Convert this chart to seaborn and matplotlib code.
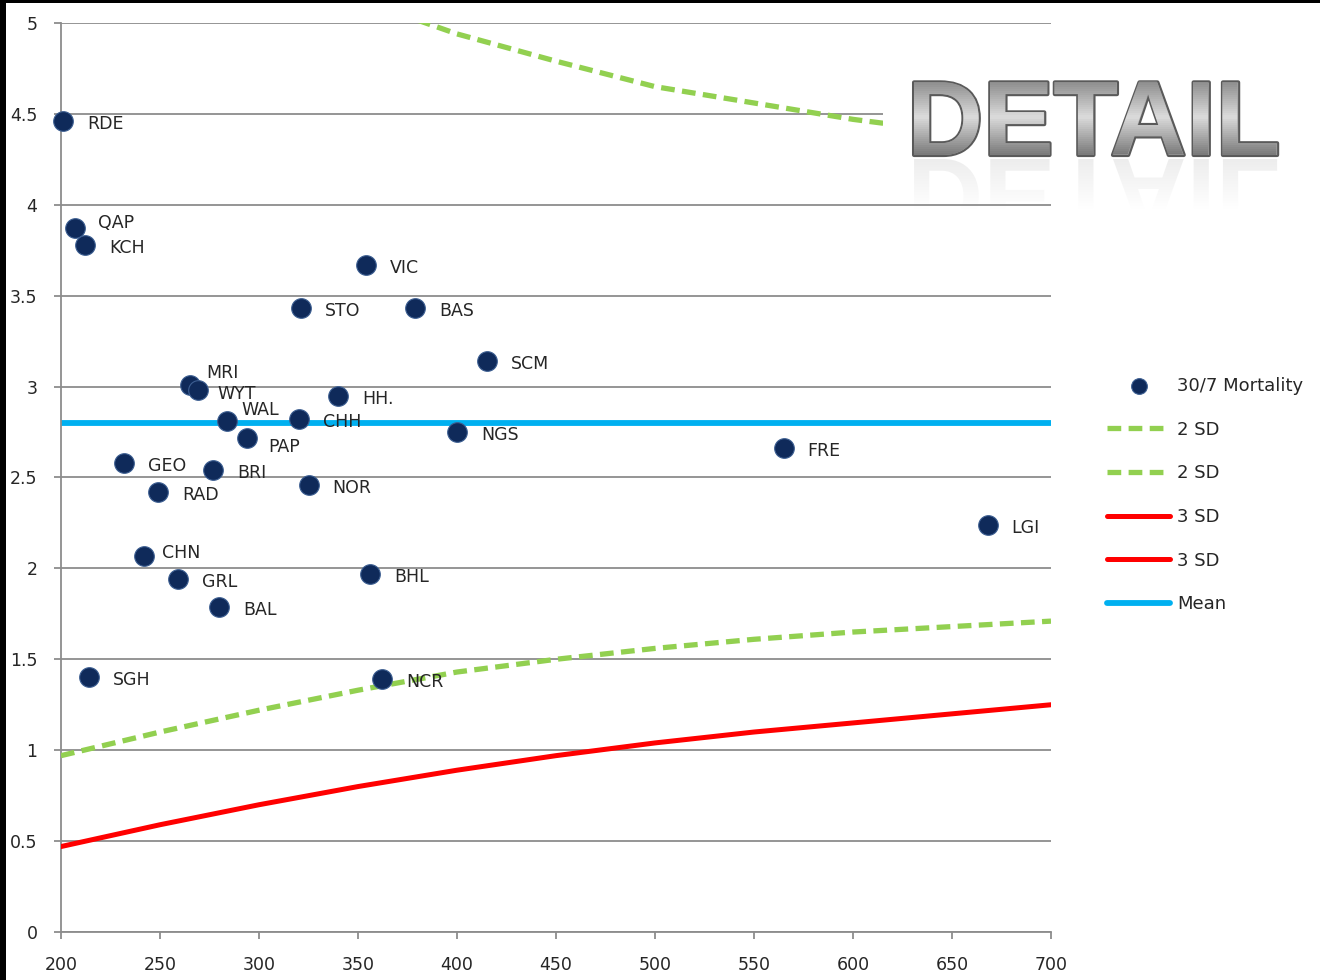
import numpy as np
import pandas as pd
import matplotlib
matplotlib.use('Agg')
import matplotlib.pyplot as plt
import matplotlib.patheffects as pe
from matplotlib.patches import Rectangle
from matplotlib.transforms import Bbox, TransformedBbox, IdentityTransform, Affine2D
from matplotlib.textpath import TextPath
from matplotlib.font_manager import FontProperties
import seaborn as sns

sns.set_theme(style="white")
plt.rcParams['font.family'] = ['DejaVu Sans']

# hospital codes, case volume and 30-day mortality (%)
hospitals = ['RDE', 'QAP', 'KCH', 'VIC', 'STO', 'BAS', 'SCM', 'MRI', 'WYT', 'HH.',
             'WAL', 'CHH', 'PAP', 'NGS', 'FRE', 'GEO', 'BRI', 'NOR', 'RAD', 'LGI',
             'CHN', 'GRL', 'BHL', 'BAL', 'SGH', 'NCR']
volume = [201, 207, 212, 354, 321, 379, 415, 265, 269, 340,
          284, 320, 294, 400, 565, 232, 277, 325, 249, 668,
          242, 259, 356, 280, 214, 362]
mortality = [4.46, 3.87, 3.78, 3.67, 3.43, 3.43, 3.14, 3.01, 2.98, 2.95,
             2.81, 2.82, 2.72, 2.75, 2.66, 2.58, 2.54, 2.46, 2.42, 2.24,
             2.07, 1.94, 1.97, 1.79, 1.40, 1.39]

# funnel limits
limit_x = [200, 250, 300, 350, 400, 450, 500, 550, 600, 650, 700]
upper_2sd = [6.2, 5.8, 5.5, 5.13, 4.94, 4.79, 4.65, 4.56, 4.47, 4.40, 4.33]
lower_2sd = [0.97, 1.10, 1.22, 1.33, 1.43, 1.50, 1.56, 1.61, 1.65, 1.68, 1.71]
upper_3sd = [8.5, 7.6, 7.0, 6.6, 6.2, 6.0, 5.8, 5.6, 5.5, 5.4, 5.3]
lower_3sd = [0.47, 0.59, 0.70, 0.80, 0.89, 0.97, 1.04, 1.10, 1.15, 1.20, 1.25]
mean_x = [200, 700]
mean_y = [2.8, 2.8]

df = pd.DataFrame({'hospital': hospitals, 'volume': volume, 'mortality': mortality})

W, H = 1320, 980
fig = plt.figure(figsize=(W / 100, H / 100), dpi=100)
ax = fig.add_axes([61 / W, 48 / H, 990 / W, 909 / H])

green = '#92d050'
red = '#ff0000'
blue = '#00b0f0'
dash = (0, (2.6, 1.4))

sns.scatterplot(data=df, x='volume', y='mortality', ax=ax, s=200, color='#0f2a5a',
                edgecolor='#3d5f92', linewidth=0.8, label='30/7 Mortality', zorder=5,
                clip_on=False)
sns.lineplot(x=limit_x, y=upper_2sd, ax=ax, color=green, lw=3.8,
             linestyle=dash, label='2 SD', zorder=3)
sns.lineplot(x=limit_x, y=lower_2sd, ax=ax, color=green, lw=3.8,
             linestyle=dash, label='2 SD', zorder=3)
sns.lineplot(x=limit_x, y=upper_3sd, ax=ax, color=red, lw=3.6, label='3 SD', zorder=3)
sns.lineplot(x=limit_x, y=lower_3sd, ax=ax, color=red, lw=3.6, label='3 SD', zorder=3)
sns.lineplot(x=mean_x, y=mean_y, ax=ax, color=blue, lw=4.2, label='Mean', zorder=2)

# point labels: default offset, a few nudged (pixels)
nudge = {'QAP': (23, -5), 'MRI': (17, -12), 'WAL': (14, -11), 'PAP': (21, 9),
         'CHN': (18, -3), 'WYT': (20, 4)}
for h, x, y in zip(hospitals, volume, mortality):
    dx, dy = nudge.get(h, (24, 3))
    ax.annotate(h, (x, y), xytext=(dx * 0.72, -dy * 0.72), textcoords='offset points',
                ha='left', va='center', fontsize=12.5, color='#262626', zorder=6)

ax.set_xlim(200, 700)
ax.set_ylim(0, 5)
ax.set_xticks(range(200, 701, 50))
ax.set_yticks([0, 0.5, 1, 1.5, 2, 2.5, 3, 3.5, 4, 4.5, 5])
ax.set_yticklabels(['0', '0.5', '1', '1.5', '2', '2.5', '3', '3.5', '4', '4.5', '5'])
ax.set_xlabel('')
ax.set_ylabel('')
ax.grid(axis='y', color='#8c8c8c', lw=1.3)
ax.grid(axis='x', visible=False)
ax.set_axisbelow(True)
for s in ['top', 'right']:
    ax.spines[s].set_visible(False)
for s in ['left', 'bottom']:
    ax.spines[s].set_color('#8c8c8c')
    ax.spines[s].set_linewidth(1.3)
ax.tick_params(axis='both', direction='out', length=5, width=1.3, color='#8c8c8c',
               labelsize=12.5, labelcolor='#262626', left=True, bottom=True)
ax.tick_params(axis='y', pad=12)
ax.tick_params(axis='x', pad=12)

ax.legend(loc='upper left', bbox_to_anchor=(1107 / W, 1 - 377 / H),
          bbox_transform=fig.transFigure, frameon=False, fontsize=13,
          handlelength=3.5, handletextpad=0.4, labelspacing=1.42,
          borderpad=0, borderaxespad=0, labelcolor='#262626', markerscale=0.8)

# "DETAIL" banner over the top-right corner
fig.patches.append(Rectangle((883 / W, 1 - 202 / H), 437 / W, 172 / H,
                             transform=fig.transFigure, facecolor='white',
                             edgecolor='none', zorder=10))

tx, base = 907, 155          # left edge and baseline, pixels from top-left
fsize = 76
fig.text(tx / W, 1 - base / H, 'DETAIL', fontsize=fsize, fontweight='bold',
         family='Liberation Sans', color='#a3a3a3', va='baseline', ha='left', zorder=11,
         path_effects=[pe.withStroke(linewidth=3, foreground='#5a5a5a')])

# metallic gradient: same text repeated in thin clipped bands
top, bot = 77, 155
for py in range(top - 2, bot + 2, 2):
    t = min(max((py - top) / (bot - top), 0), 1)
    v = 0.52 + 0.34 * (t / 0.5) if t < 0.5 else 0.86 - 0.40 * ((t - 0.5) / 0.5)
    band = fig.text(tx / W, 1 - base / H, 'DETAIL', fontsize=fsize, fontweight='bold',
                    family='Liberation Sans', color=(v, v, v), va='baseline', ha='left',
                    zorder=12)
    band.set_clip_box(TransformedBbox(Bbox.from_extents(0, H - py - 2, W, H - py),
                                      IdentityTransform()))
    band.set_clip_on(True)

# faint mirrored reflection under the word
gax = fig.add_axes([0, 0, 1, 1], zorder=10.5)
gax.set_xlim(0, W)
gax.set_ylim(0, H)
gax.axis('off')
fp = FontProperties(family='Liberation Sans', weight='bold')
tp = TextPath((0, 0), 'DETAIL', size=fsize * 100 / 72, prop=fp)
mirror = Affine2D().scale(1, -1).translate(tx, H - base - 4)
alpha = np.linspace(0.25, 0.0, 60)[:, None] * np.ones((1, 10))
rgba = np.zeros((60, 10, 4))
rgba[..., :3] = 0.72
rgba[..., 3] = alpha
im = gax.imshow(rgba, extent=(tx - 5, 1300, H - 210, H - base - 4), aspect='auto',
                origin='upper', interpolation='bilinear')
im.set_clip_path(mirror.transform_path(tp), gax.transData)

# black frame on the left and top edges
fig.patches.append(Rectangle((0, 0), 6 / W, 1, transform=fig.transFigure,
                             facecolor='black', edgecolor='none', zorder=13))
fig.patches.append(Rectangle((0, 1 - 3 / H), 1, 3 / H, transform=fig.transFigure,
                             facecolor='black', edgecolor='none', zorder=13))

fig.savefig('out.png', dpi=100)
